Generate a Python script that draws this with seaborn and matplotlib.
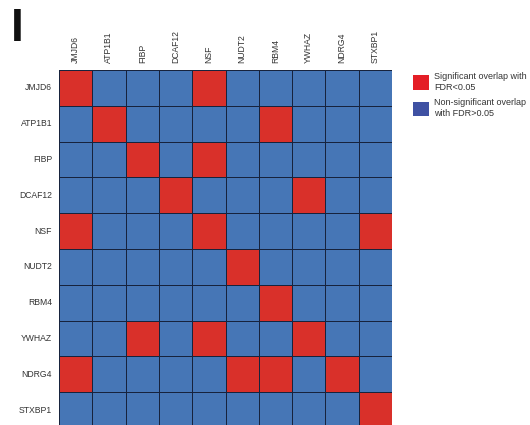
import numpy as np
import pandas as pd
import matplotlib
matplotlib.use("Agg")
import matplotlib.pyplot as plt
from matplotlib.colors import ListedColormap
from matplotlib.patches import Patch
import seaborn as sns

genes = ["JMJD6", "ATP1B1", "FIBP", "DCAF12", "NSF", "NUDT2", "RBM4", "YWHAZ", "NDRG4", "STXBP1"]
# 1 = significant overlap (FDR<0.05), 0 = non-significant
sig_JMJD6  = [1, 0, 0, 0, 1, 0, 0, 0, 0, 0]
sig_ATP1B1 = [0, 1, 0, 0, 0, 0, 1, 0, 0, 0]
sig_FIBP   = [0, 0, 1, 0, 1, 0, 0, 0, 0, 0]
sig_DCAF12 = [0, 0, 0, 1, 0, 0, 0, 1, 0, 0]
sig_NSF    = [1, 0, 0, 0, 1, 0, 0, 0, 0, 1]
sig_NUDT2  = [0, 0, 0, 0, 0, 1, 0, 0, 0, 0]
sig_RBM4   = [0, 0, 0, 0, 0, 0, 1, 0, 0, 0]
sig_YWHAZ  = [0, 0, 1, 0, 1, 0, 0, 1, 0, 0]
sig_NDRG4  = [1, 0, 0, 0, 0, 1, 1, 0, 1, 0]
sig_STXBP1 = [0, 0, 0, 0, 0, 0, 0, 0, 0, 1]
legend_labels = ["Significant overlap with\nFDR<0.05", "Non-significant overlap\nwith FDR>0.05"]

sns.set_style("white")
plt.rcParams['font.family'] = ['Liberation Sans', 'DejaVu Sans']

df = pd.DataFrame([sig_JMJD6, sig_ATP1B1, sig_FIBP, sig_DCAF12, sig_NSF,
                   sig_NUDT2, sig_RBM4, sig_YWHAZ, sig_NDRG4, sig_STXBP1],
                  index=genes, columns=genes)

blue = "#4676B6"
red = "#D9302A"
cmap = ListedColormap([blue, red])

fig = plt.figure(figsize=(5.3, 4.25), dpi=100)
ax = fig.add_axes([59/530, -3/425, 333/530, 358/425])
sns.heatmap(df, ax=ax, cmap=cmap, vmin=0, vmax=1, cbar=False,
            linewidths=0.7, linecolor="#17233d", square=False)
ax.xaxis.tick_top()
ax.set_xticklabels(genes, rotation=90, fontsize=6.2, color="#333333")
ax.set_yticklabels(genes, rotation=0, fontsize=6.2, color="#333333")
ax.tick_params(axis="both", length=0, pad=5)
ax.set_xlabel("")
ax.set_ylabel("")

handles = [Patch(facecolor="#E41E26", edgecolor="none"),
           Patch(facecolor="#3F51A3", edgecolor="none")]
fig.legend(handles, legend_labels, loc="upper left",
           bbox_to_anchor=(407/530, 1 - 66/425), frameon=False,
           fontsize=6.5, handlelength=1.7, handleheight=2.1,
           handletextpad=0.6, labelspacing=0.75, labelcolor="#333333",
           borderaxespad=0.3)

fig.text(11/530, 1 - 41/425, "I", fontsize=33, fontweight="bold",
         color="#111111", ha="left", va="baseline")

fig.savefig("out.png", dpi=100)
